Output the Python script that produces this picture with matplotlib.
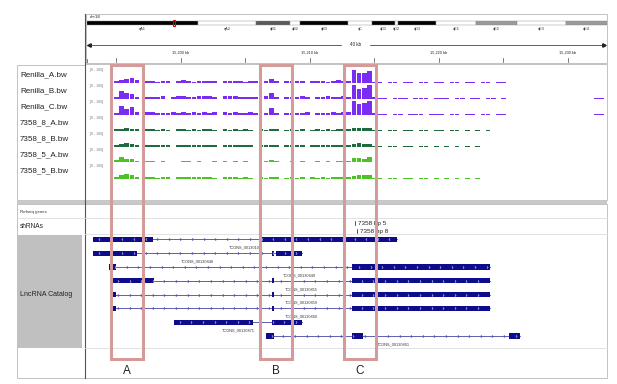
import numpy as np
import matplotlib
matplotlib.use("Agg")
import matplotlib.pyplot as plt
from matplotlib.patches import Rectangle
from matplotlib.path import Path

plt.rcParams['font.family'] = ['Liberation Sans', 'DejaVu Sans']

# ---------------- data ----------------
chrom = "chr18"
chrom_len_mb = 90.8
band_names = ["qA1", "qA2", "qB1", "qB2", "qB3", "qC", "qD1", "qD2", "qD3", "qE1", "qE2", "qE3", "qE4"]
band_ends_mb = [19.4, 29.5, 35.5, 37.2, 45.6, 49.8, 53.8, 54.3, 61.0, 68.0, 75.1, 83.7, 90.8]
band_stain = ["black", "white", "dark", "white", "black", "white", "black", "white", "black",
              "white", "gray", "white", "gray"]
current_mb = 15.2

ruler_ticks_kb = [15195, 15200, 15205, 15210, 15215, 15220, 15225, 15230]
ruler_labels = {15200: "15,200 kb", 15210: "15,210 kb", 15220: "15,220 kb", 15230: "15,230 kb"}
span_label = "40 kb"

# coverage, 0.4 kb bins starting at 15,194.8 kb, scale [0 - 100]
bin_start = 15194.8
bin_kb = 0.4
track_names = ["Renilla_A.bw", "Renilla_B.bw", "Renilla_C.bw", "7358_8_A.bw",
               "7358_8_B.bw", "7358_5_A.bw", "7358_5_B.bw"]
track_colors = ["#7b2cf2", "#7b2cf2", "#7b2cf2", "#1d6b3e", "#1d6b3e", "#4cc226", "#4cc226"]

renilla_a = [8, 16, 22, 30, 14, 0, 12, 10, 6, 12, 9, 0, 11, 13, 8, 6, 11, 9, 12, 7,
             0, 10, 12, 8, 11, 6, 9, 11, 0, 12, 24, 9, 0, 7, 10, 12, 9, 0, 10, 12,
             8, 6, 12, 14, 10, 12, 82, 60, 62, 74, 6, 4, 0, 3, 4, 0, 3, 2, 0, 3,
             4, 0, 2, 3, 0, 3, 2, 0, 3, 2, 0, 3, 2, 0, 2, 3, 0, 0, 0, 0,
             0, 0, 0, 0, 0, 0, 0, 0, 0, 0, 0, 0, 0, 0, 0]
renilla_b = [10, 46, 34, 26, 12, 0, 10, 12, 8, 14, 0, 10, 14, 16, 10, 12, 18, 14, 16, 12,
             0, 14, 18, 16, 12, 10, 8, 12, 0, 14, 34, 10, 0, 8, 12, 10, 14, 8, 0, 12,
             10, 14, 8, 12, 16, 12, 86, 64, 70, 84, 8, 5, 3, 0, 4, 3, 5, 0, 3, 4,
             2, 0, 3, 4, 2, 0, 3, 4, 0, 3, 2, 0, 3, 2, 0, 2, 0, 0, 0, 0,
             0, 0, 0, 0, 0, 0, 0, 0, 0, 0, 0, 0, 0, 3, 3]
renilla_c = [12, 52, 36, 46, 14, 0, 14, 18, 10, 12, 8, 16, 12, 18, 10, 14, 12, 16, 10, 14,
             0, 16, 10, 14, 12, 12, 16, 10, 0, 12, 40, 12, 0, 10, 8, 12, 10, 14, 0, 10,
             12, 8, 14, 12, 16, 14, 88, 70, 72, 86, 8, 4, 3, 0, 5, 4, 0, 3, 5, 2,
             0, 4, 3, 2, 0, 3, 4, 0, 3, 2, 0, 2, 3, 0, 2, 2, 0, 0, 0, 0,
             0, 0, 0, 0, 0, 0, 0, 0, 0, 0, 0, 0, 0, 3, 3]
sh8_a = [8, 12, 14, 12, 10, 0, 10, 12, 6, 8, 6, 0, 8, 10, 6, 8, 6, 10, 8, 6,
         0, 8, 6, 10, 6, 8, 6, 0, 8, 6, 10, 8, 0, 6, 8, 6, 8, 0, 6, 8,
         6, 8, 6, 8, 10, 8, 16, 18, 14, 14, 4, 2, 0, 2, 3, 0, 2, 3, 0, 2,
         3, 0, 2, 2, 0, 2, 3, 0, 2, 0, 2, 0, 2, 0, 0, 0, 0, 0, 0, 0,
         0, 0, 0, 0, 0, 0, 0, 0, 0, 0, 0, 0, 0, 0, 0]
sh8_b = [10, 16, 22, 18, 12, 0, 10, 8, 12, 8, 10, 0, 8, 12, 10, 8, 10, 12, 8, 10,
         0, 10, 8, 12, 8, 10, 8, 0, 10, 8, 12, 8, 0, 8, 10, 8, 10, 0, 8, 10,
         8, 10, 8, 10, 12, 10, 14, 20, 14, 14, 3, 2, 0, 3, 2, 0, 3, 2, 0, 2,
         2, 0, 3, 0, 2, 0, 2, 0, 2, 0, 2, 0, 0, 0, 0, 0, 0, 0, 0, 0,
         0, 0, 0, 0, 0, 0, 0, 0, 0, 0, 0, 0, 0, 0, 0]
sh5_a = [14, 38, 24, 20, 10, 0, 10, 12, 6, 8, 6, 0, 6, 10, 8, 6, 8, 6, 0, 8,
         6, 8, 6, 8, 6, 8, 6, 0, 6, 8, 14, 8, 0, 6, 8, 6, 8, 0, 6, 8,
         6, 8, 6, 8, 10, 8, 30, 26, 22, 34, 4, 2, 0, 3, 2, 0, 2, 3, 0, 2,
         2, 0, 2, 3, 0, 2, 0, 2, 0, 2, 0, 2, 0, 0, 0, 0, 0, 0, 0, 0,
         0, 0, 0, 0, 0, 0, 0, 0, 0, 0, 0, 0, 0, 0, 0]
sh5_b = [10, 20, 26, 24, 10, 0, 8, 10, 6, 8, 8, 0, 10, 12, 8, 8, 10, 12, 8, 6,
         0, 8, 10, 8, 6, 8, 6, 0, 8, 6, 12, 8, 0, 6, 8, 6, 8, 0, 8, 6,
         8, 6, 8, 10, 8, 8, 18, 22, 20, 22, 3, 2, 0, 2, 3, 0, 2, 2, 0, 2,
         2, 0, 2, 0, 2, 0, 2, 0, 2, 0, 2, 0, 0, 0, 0, 0, 0, 0, 0, 0,
         0, 0, 0, 0, 0, 0, 0, 0, 0, 0, 0, 0, 0, 0, 0]
coverage = [renilla_a, renilla_b, renilla_c, sh8_a, sh8_b, sh5_a, sh5_b]

shrna_names = ["7358 hp 5", "7358 hp 8"]
shrna_pos_kb = [15213.49, 15213.64]

tx_names = ["TCONS_00130100", "TCONS_00130848", "TCONS_00130849", "TCONS_00130855",
            "TCONS_00130859", "TCONS_00130860", "TCONS_00130871", "TCONS_00130861"]
tx_strand = ["-", "+", "+", "+", "+", "+", "+", "+"]
tx_exons = [
    [(15193.20, 15197.81), (15206.20, 15216.74)],
    [(15193.20, 15196.57), (15207.03, 15207.21), (15207.33, 15209.40)],
    [(15194.44, 15194.96), (15213.23, 15223.95)],
    [(15194.67, 15197.93), (15207.03, 15207.21), (15213.23, 15223.95)],
    [(15194.67, 15194.98), (15207.03, 15207.21), (15213.23, 15223.95)],
    [(15194.67, 15194.98), (15207.03, 15207.21), (15213.23, 15223.95)],
    [(15199.46, 15205.60), (15207.03, 15209.40)],
    [(15206.59, 15207.21), (15213.23, 15214.13), (15225.43, 15226.28)],
]

highlight_names = ["A", "B", "C"]
highlight_kb = [(15194.57, 15197.05), (15206.12, 15208.60), (15212.64, 15215.12)]

# ---------------- layout helpers (pixel geometry) ----------------
W, H = 617, 384
KB0, PX0, PX_PER_KB = 15200.0, 181.0, 12.9
X_LEFT, X_RIGHT = 87, 606
XL = KB0 + (X_LEFT - PX0) / PX_PER_KB
XR = KB0 + (X_RIGHT - PX0) / PX_PER_KB

fig = plt.figure(figsize=(W / 100, H / 100), dpi=100)


def px_axes(x0, y0, x1, y1):
    ax = fig.add_axes([x0 / W, 1 - y1 / H, (x1 - x0) / W, (y1 - y0) / H])
    ax.axis('off')
    return ax


# background frames
bg = px_axes(0, 0, W, H)
bg.set_xlim(0, W)
bg.set_ylim(H, 0)
frame = '#b8b8b8'
bg.add_patch(Rectangle((86, 14), 521, 49, fill=False, ec=frame, lw=0.6))
bg.add_patch(Rectangle((17, 65), 68, 135, fill=False, ec=frame, lw=0.6))
bg.add_patch(Rectangle((85, 64), 522, 136, fill=False, ec=frame, lw=0.6))
bg.add_patch(Rectangle((17, 200), 590, 4, fc='#c8c8c8', ec='none'))
bg.add_patch(Rectangle((17, 204), 590, 174, fill=False, ec=frame, lw=0.6))
bg.add_patch(Rectangle((17, 235), 65, 113, fc='#c0c0c0', ec='none'))
bg.plot([85, 85], [14, 378], color='#555555', lw=0.8)
for yy in (218, 234, 348):
    bg.plot([17 if yy == 218 else 85, 607], [yy, yy], color='#dddddd', lw=0.6)
bg.text(90, 17, chrom, fontsize=3.2, va='center', color='#222222')

for i, name in enumerate(track_names):
    bg.text(20, 75 + 16 * i, name, fontsize=5.8, va='center', color='#222222')
bg.text(20, 212, "Refseq genes", fontsize=3.2, va='center', color='#333333')
bg.text(20, 226, "shRNAs", fontsize=4.7, va='center', color='#222222')
bg.text(20, 294, "LncRNA Catalog", fontsize=5.0, va='center', color='#222222')

# ideogram
ideo = px_axes(87, 14, 607, 40)
ideo.set_xlim(0, chrom_len_mb)
ideo.set_ylim(40, 14)
stain_col = {"black": "#000000", "white": "#ffffff", "dark": "#5a5a5a", "gray": "#9a9a9a"}
start = 0.0
for name, end, st in zip(band_names, band_ends_mb, band_stain):
    ideo.add_patch(Rectangle((start, 20.7), end - start, 4, fc=stain_col[st], ec='#888888', lw=0.3))
    ideo.text((start + end) / 2, 29, name, fontsize=2.8, ha='center', va='center', color='#333333')
    start = end
ideo.add_patch(Rectangle((current_mb - 0.25, 19.7), 0.5, 6, fc='none', ec='#e00000', lw=0.8))

# ruler
rul = px_axes(X_LEFT, 35, X_RIGHT, 63)
rul.set_xlim(XL, XR)
rul.set_ylim(63, 35)
mid = (XL + XR) / 2 + 0.7
rul.plot([XL, mid - 1.1], [45, 45], color='#222222', lw=0.5)
rul.plot([mid + 1.1, XR], [45, 45], color='#222222', lw=0.5)
rul.plot([XL + 0.15], [45], marker='<', ms=2.5, color='#222222')
rul.plot([XR - 0.15], [45], marker='>', ms=2.5, color='#222222')
rul.text(mid, 45, span_label, fontsize=3.3, ha='center', va='center', color='#222222')
for t in ruler_ticks_kb:
    rul.plot([t, t], [58, 62], color='#444444', lw=0.5)
    if t in ruler_labels:
        rul.text(t, 53, ruler_labels[t], fontsize=2.8, ha='center', va='center', color='#222222')
rul.plot([XL, XL], [59, 63], color='#444444', lw=0.5)

# coverage tracks
centers = bin_start + bin_kb * (np.arange(len(renilla_a)) + 0.5)
for i, (vals, col) in enumerate(zip(coverage, track_colors)):
    top = 67 + 16 * i
    ax = px_axes(X_LEFT, top, X_RIGHT, top + 15.5)
    ax.set_xlim(XL, XR)
    ax.set_ylim(0, 100)
    ax.axhline(0, color='#d4d4d4', lw=0.6, zorder=0)
    ax.bar(centers, vals, width=bin_kb * 0.9, color=col, linewidth=0)
    ax.text(XL + 0.25, 92, "[0 - 100]", fontsize=2.5, va='top', color='#777777')

# gene / shRNA tracks
gx = px_axes(X_LEFT, 204, X_RIGHT, 378)
gx.set_xlim(XL, XR)
gx.set_ylim(378, 204)
for i, (name, pos) in enumerate(zip(shrna_names, shrna_pos_kb)):
    yy = 223 + 8 * i
    gx.plot([pos, pos], [yy - 2.2, yy + 2.2], color='#111111', lw=0.5)
    gx.text(pos + 0.22, yy, name, fontsize=4.6, va='center', color='#222222')

chev_r = Path([(-1, 2), (1, 0), (-1, -2)], [Path.MOVETO, Path.LINETO, Path.LINETO])
chev_l = Path([(1, 2), (-1, 0), (1, -2)], [Path.MOVETO, Path.LINETO, Path.LINETO])
exon_col = '#0c0c8c'
line_col = '#4646a6'
for i, (name, strand, exons) in enumerate(zip(tx_names, tx_strand, tx_exons)):
    y = 239.3 + 13.8 * i
    s0, e0 = exons[0][0], exons[-1][1]
    gx.plot([s0, e0], [y, y], color=line_col, lw=0.6, zorder=1)
    for s, e in exons:
        gx.add_patch(Rectangle((s, y - 2.6), e - s, 5.2, fc=exon_col, ec='none', zorder=2))
    xs = np.arange(s0 + 0.45, e0 - 0.2, 0.9)
    inside = np.array([any(s <= x <= e for s, e in exons) for x in xs])
    mk = chev_r if strand == "+" else chev_l
    gx.plot(xs[~inside], [y] * (~inside).sum(), ls='none', marker=mk, ms=1.9,
            mfc='none', mec=line_col, mew=0.45, zorder=3)
    gx.plot(xs[inside], [y] * inside.sum(), ls='none', marker=mk, ms=1.7,
            mfc='none', mec='#e4e4ff', mew=0.4, zorder=3)
    gx.text((s0 + e0) / 2, y + 8.3, name, fontsize=2.8, ha='center', va='center', color='#333333')

# highlighted regions
ov = px_axes(X_LEFT, 0, X_RIGHT, H)
ov.set_xlim(XL, XR)
ov.set_ylim(H, 0)
for name, (s, e) in zip(highlight_names, highlight_kb):
    ov.add_patch(Rectangle((s, 65), e - s, 294, fill=False, ec='#d59b9b', lw=2.2, zorder=5))
    ov.text((s + e) / 2, 371, name, fontsize=8.5, ha='center', va='center', color='#222222')

fig.savefig("out.png", dpi=100)
